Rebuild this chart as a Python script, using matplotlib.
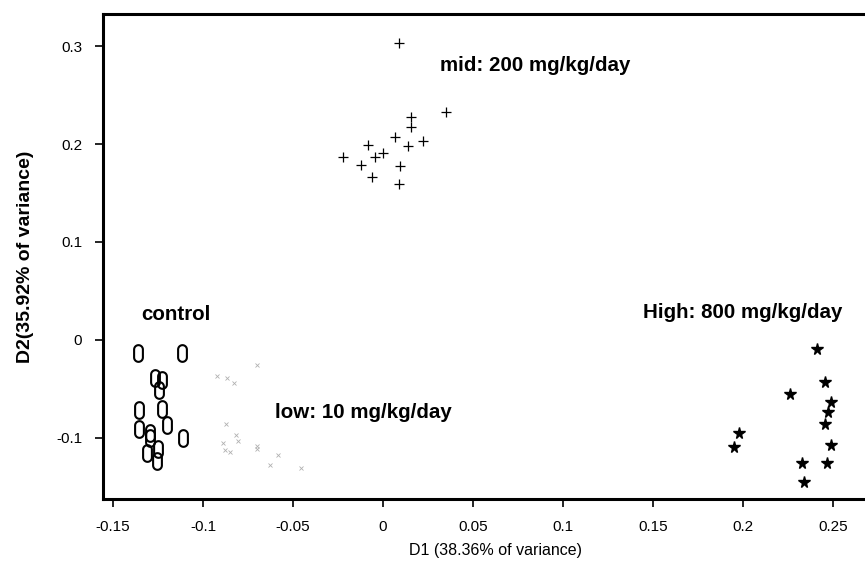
## Discriminant analysis scatter (D1 vs D2), four dose groups

import numpy as np
import matplotlib.pyplot as plt
from matplotlib.path import Path

plt.rcParams['font.family'] = ['Liberation Sans', 'DejaVu Sans']

# Group scores
control_x = [-0.1361, -0.1117, -0.1267, -0.1228, -0.1244, -0.1356, -0.1228, -0.1200,
             -0.1356, -0.1294, -0.1294, -0.1111, -0.1250, -0.1311, -0.1256]
control_y = [-0.0133, -0.0133, -0.0388, -0.0409, -0.0511, -0.0715, -0.0705, -0.0868,
             -0.0909, -0.0950, -0.1001, -0.1001, -0.1114, -0.1155, -0.1236]

low_x = [-0.0700, -0.0922, -0.0867, -0.0828, -0.0872, -0.0817, -0.0806, -0.0889,
         -0.0700, -0.0700, -0.0878, -0.0850, -0.0583, -0.0628, -0.0456]
low_y = [-0.0255, -0.0368, -0.0388, -0.0439, -0.0858, -0.0971, -0.1032, -0.1052,
         -0.1083, -0.1114, -0.1124, -0.1144, -0.1175, -0.1277, -0.1308]

mid_x = [0.0089, 0.0350, 0.0156, 0.0156, 0.0067, 0.0222, -0.0083, 0.0139,
         0.0000, -0.0044, -0.0222, -0.0122, 0.0094, -0.0061, 0.0089]
mid_y = [0.3035, 0.2330, 0.2279, 0.2176, 0.2074, 0.2033, 0.1992, 0.1982,
         0.1911, 0.1870, 0.1870, 0.1788, 0.1778, 0.1666, 0.1594]

high_x = [0.2411, 0.2456, 0.2261, 0.2489, 0.2472, 0.2456, 0.1978, 0.1950,
          0.2489, 0.2328, 0.2467, 0.2339]
high_y = [-0.0092, -0.0429, -0.0552, -0.0633, -0.0736, -0.0858, -0.0950, -0.1093,
          -0.1073, -0.1257, -0.1257, -0.1451]

xticks = [-0.15, -0.1, -0.05, 0, 0.05, 0.1, 0.15, 0.2, 0.25]
xtick_labels = ['-0.15', '-0.1', '-0.05', '0', '0.05', '0.1', '0.15', '0.2', '0.25']
yticks = [-0.1, 0, 0.1, 0.2, 0.3]
ytick_labels = ['-0.1', '0', '0.1', '0.2', '0.3']

# tall rounded "0" marker used for the control group
th = np.linspace(0, np.pi, 20)
top = np.column_stack([0.5 * np.cos(th), 0.45 + 0.5 * np.sin(th)])
bot = np.column_stack([0.5 * np.cos(th + np.pi), -0.45 + 0.5 * np.sin(th + np.pi)])
zero_marker = Path(np.vstack([top, bot, top[:1]]), closed=True)

fig = plt.figure(figsize=(8.65, 5.73), dpi=100)
ax = fig.add_axes([0.119, 0.129, 0.881, 0.847])

ax.plot(control_x, control_y, linestyle='none', marker=zero_marker, markersize=12,
        markerfacecolor='none', markeredgecolor='black', markeredgewidth=1.5)
ax.plot(low_x, low_y, linestyle='none', marker='x', markersize=2.2,
        color='#b0b0b0', markeredgewidth=0.6)
ax.plot(mid_x, mid_y, linestyle='none', marker='+', markersize=6.5,
        color='black', markeredgewidth=0.9)
ax.plot(high_x, high_y, linestyle='none', marker='*', markersize=8.5,
        color='black')

ax.text(-0.1344, 0.026, 'control', fontsize=14.8, fontweight='bold', va='center')
ax.text(-0.0600, -0.0745, 'low: 10 mg/kg/day', fontsize=14.8, fontweight='bold', va='center')
ax.text(0.0317, 0.2800, 'mid: 200 mg/kg/day', fontsize=14.8, fontweight='bold', va='center')
ax.text(0.1444, 0.0275, 'High: 800 mg/kg/day', fontsize=14.8, fontweight='bold', va='center')

ax.set_xlim(-0.1556, 0.2678)
ax.set_ylim(-0.1625, 0.333)
ax.set_xticks(xticks)
ax.set_xticklabels(xtick_labels)
ax.set_yticks(yticks)
ax.set_yticklabels(ytick_labels)
ax.tick_params(direction='out', length=6, width=1.2, labelsize=11, pad=9)

for side in ['left', 'bottom', 'top']:
    ax.spines[side].set_linewidth(2.2)
ax.spines['right'].set_visible(False)

ax.set_xlabel('D1 (38.36% of variance)', fontsize=11.5, labelpad=14)
ax.xaxis.set_label_coords(0.515, -0.09)
ax.set_ylabel('D2(35.92% of variance)', fontsize=14, fontweight='bold', labelpad=16)

fig.savefig('out.png', dpi=100)
